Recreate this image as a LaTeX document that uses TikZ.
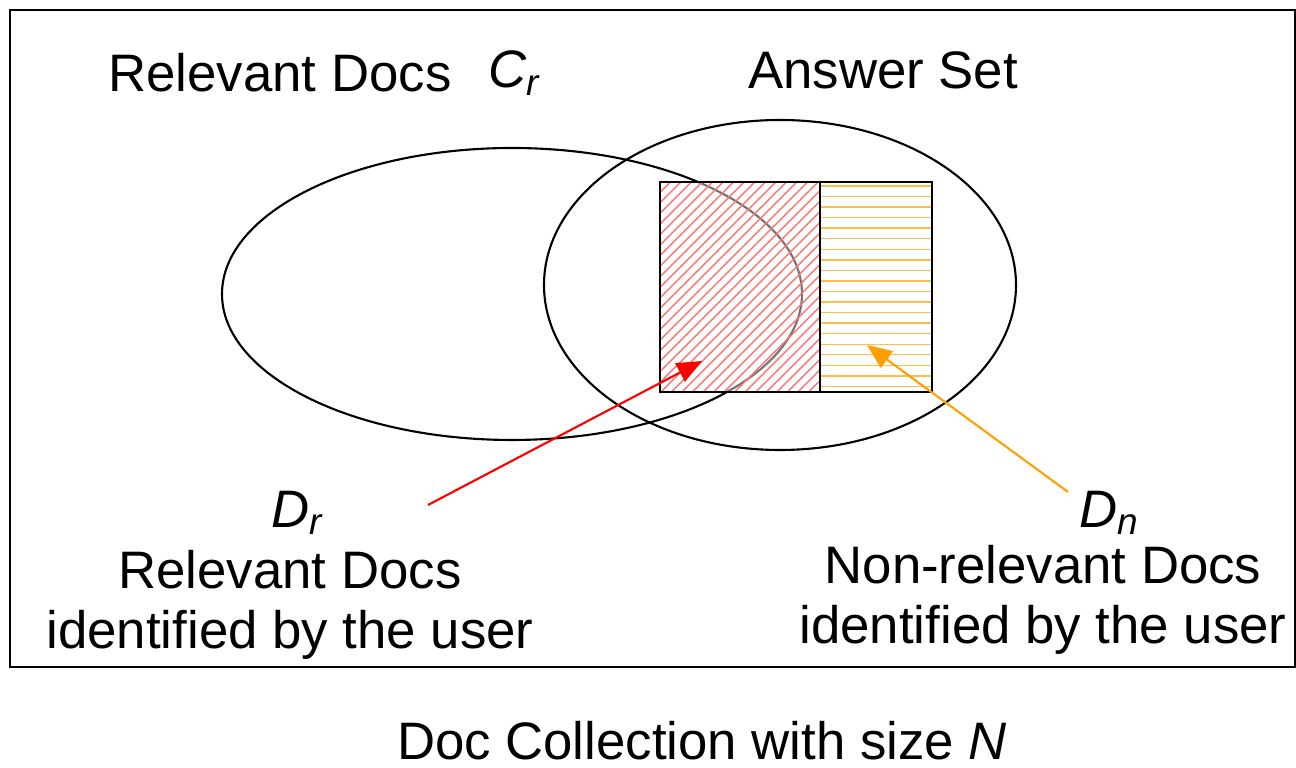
\documentclass[tikz,border=0pt]{standalone}
\usepackage{fontspec}
\setmainfont{Liberation Sans}
\usetikzlibrary{arrows,patterns}
\definecolor{dnorange}{RGB}{255,160,0}
\newcommand{\setvar}[2]{\textit{#1}\textsubscript{\textit{#2}}}
\begin{document}
\begin{tikzpicture}[x=0.01cm,y=-0.01cm,>=triangle 45,semithick,
    font=\fontsize{15}{17}\selectfont]
        \tikzstyle{label text}=[align=center,inner sep=0pt]
        \tikzstyle{rel hatch}=[draw=black,thick,fill=white,fill opacity=0.45,
            postaction={pattern=north east lines,pattern color=red!55}]
        \tikzstyle{nonrel hatch}=[draw=black,thick,fill=white,fill opacity=0.45,
            postaction={pattern=horizontal lines,pattern color=dnorange!70}]
        \useasboundingbox (0,0) rectangle (1296,768);
        \draw (10,10) rectangle (1295,667);

        % the two sets
        \draw (512,294) ellipse [x radius=290,y radius=146];
        \draw (780,285) ellipse [x radius=236,y radius=165];

        % documents judged by the user
        \path[rel hatch]    (660,182) rectangle (820,392);
        \path[nonrel hatch] (820,182) rectangle (932,392);
        \draw[thick] (660,182) rectangle (932,392);
        \draw[thick] (820,182) -- (820,392);

        % labels
        \node[label text] (relTitle) at (280,73)  {Relevant Docs};
        \node[label text] (cr)       at (515,73)  {\setvar{C}{r}};
        \node[label text] (answer)   at (883,70)  {Answer Set};
        \node[label text] (dr)       at (298,513) {\setvar{D}{r}};
        \node[label text] (drText)   at (290,605) {Relevant Docs\\identified by the user};
        \node[label text] (dn)       at (1110,513) {\setvar{D}{n}};
        \node[label text] (dnText)   at (1043,600) {Non-relevant Docs\\identified by the user};
        \node[label text] (coll)     at (702,741) {Doc Collection with size \textit{N}};

        % pointers
        \coordinate (drFrom) at (428,505);
        \coordinate (drTo)   at (702,361);
        \coordinate (dnFrom) at (1068,492);
        \coordinate (dnTo)   at (867,345);
        \draw[->,red]       (drFrom) -- (drTo);
        \draw[->,dnorange]  (dnFrom) -- (dnTo);
\end{tikzpicture}
\end{document}
